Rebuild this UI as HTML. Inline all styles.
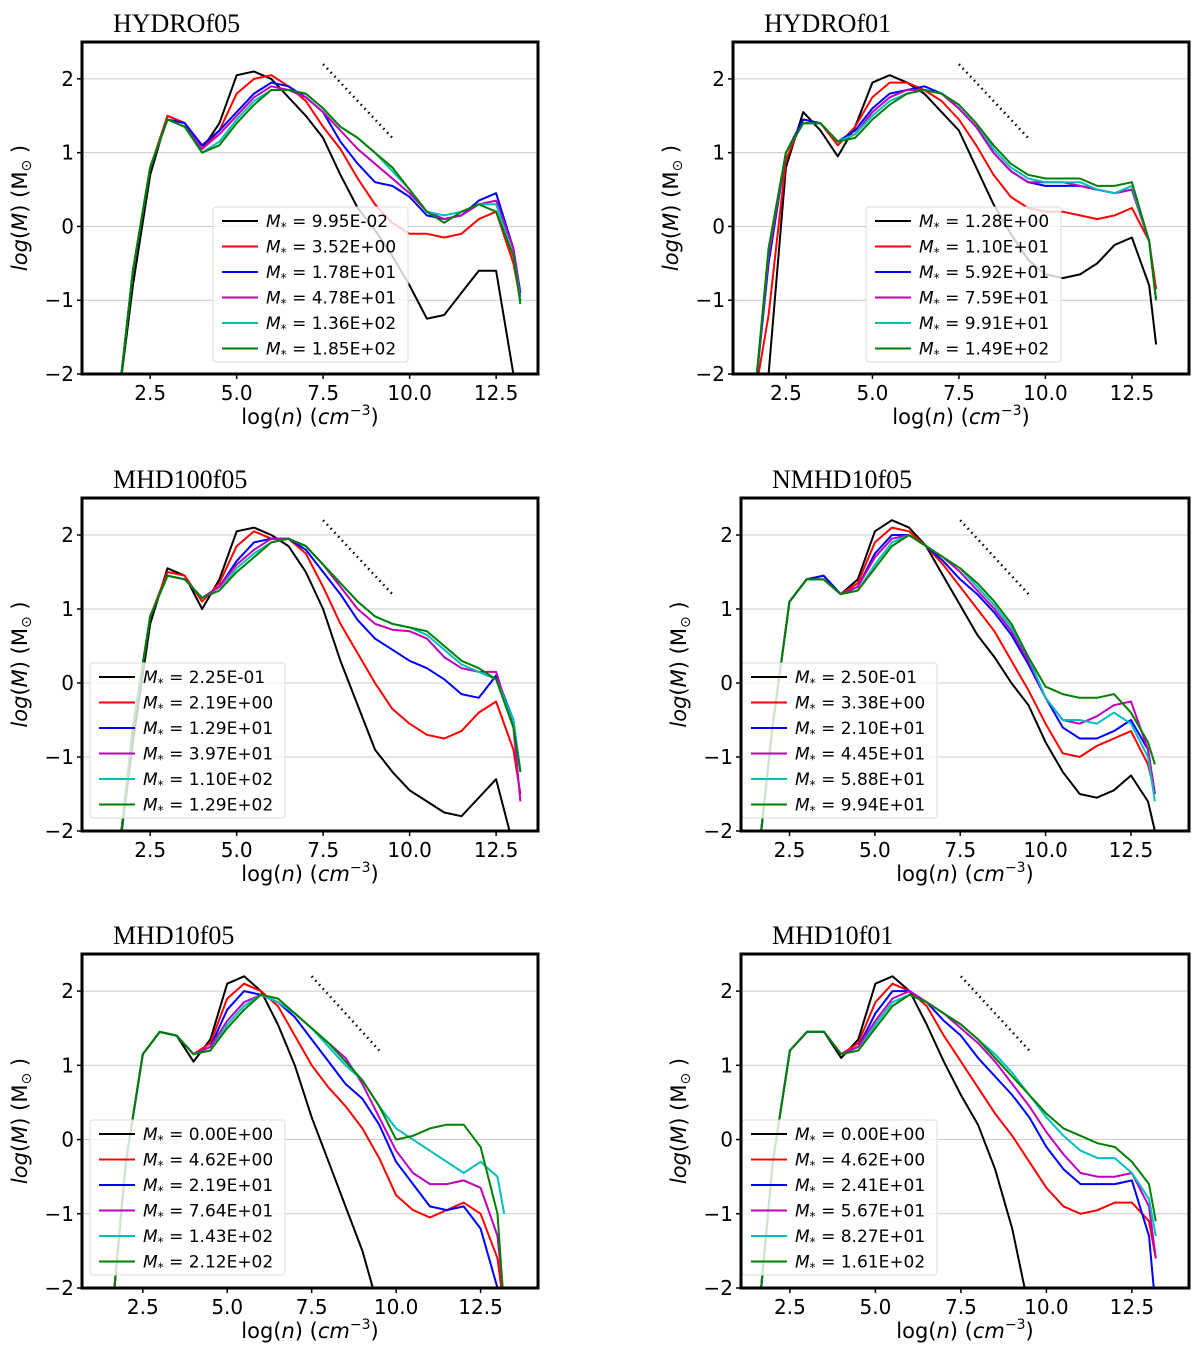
<!DOCTYPE html>
<html><head><meta charset="utf-8"><style>
html,body{margin:0;padding:0;background:#fff;width:1200px;height:1354px;overflow:hidden;}
svg{display:block;}
svg text{font-family:"DejaVu Sans","Liberation Sans",sans-serif;}
</style></head><body>
<svg id="fig" width="1200" height="1354" viewBox="0 0 1200 1354" xmlns="http://www.w3.org/2000/svg"></svg>
<script>
const xs=[1.6,2,2.5,3,3.5,4,4.5,5,5.5,6,6.5,7,7.5,8,8.5,9,9.5,10,10.5,11,11.5,12,12.5,13,13.2];
const colors=['#000000','#ff0000','#0000ff','#bf00bf','#00bfbf','#008000'];
const yTicks=[-2,-1,0,1,2];
const xTicks=[2.5,5.0,7.5,10.0,12.5];
const titles=['HYDROf05','HYDROf01','MHD100f05','NMHD10f05','MHD10f05','MHD10f01'];
const labels1=['9.95E-02','3.52E+00','1.78E+01','4.78E+01','1.36E+02','1.85E+02'];
const labels2=['1.28E+00','1.10E+01','5.92E+01','7.59E+01','9.91E+01','1.49E+02'];
const labels3=['2.25E-01','2.19E+00','1.29E+01','3.97E+01','1.10E+02','1.29E+02'];
const labels4=['2.50E-01','3.38E+00','2.10E+01','4.45E+01','5.88E+01','9.94E+01'];
const labels5=['0.00E+00','4.62E+00','2.19E+01','7.64E+01','1.43E+02','2.12E+02'];
const labels6=['0.00E+00','4.62E+00','2.41E+01','5.67E+01','8.27E+01','1.61E+02'];
const p1=[
[-2.5,-0.8,0.7,1.5,1.4,1.05,1.4,2.05,2.1,2.0,1.75,1.5,1.2,0.7,0.25,-0.05,-0.4,-0.8,-1.25,-1.2,-0.9,-0.6,-0.6,-2.0,-3],
[-2.5,-0.6,0.8,1.5,1.4,1.05,1.3,1.8,2.0,2.05,1.9,1.7,1.35,1.05,0.65,0.3,0.05,-0.1,-0.1,-0.15,-0.1,0.1,0.2,-0.5,-1],
[-2.5,-0.6,0.8,1.45,1.4,1.1,1.3,1.55,1.8,1.95,1.9,1.75,1.55,1.15,0.85,0.6,0.55,0.4,0.15,0.1,0.15,0.35,0.45,-0.3,-0.9],
[-2.5,-0.6,0.8,1.45,1.35,1.05,1.25,1.5,1.75,1.9,1.85,1.75,1.55,1.3,1.05,0.85,0.65,0.45,0.2,0.1,0.15,0.3,0.35,-0.3,-0.95],
[-2.5,-0.6,0.8,1.45,1.35,1.0,1.15,1.45,1.7,1.85,1.85,1.8,1.6,1.35,1.2,1.0,0.75,0.5,0.2,0.15,0.2,0.3,0.3,-0.4,-1],
[-2.5,-0.6,0.8,1.45,1.35,1.0,1.1,1.4,1.65,1.85,1.85,1.8,1.6,1.35,1.2,1.0,0.8,0.5,0.2,0.05,0.2,0.3,0.2,-0.4,-1.05]];
const p2=[
[-3,-2,0.8,1.55,1.3,0.95,1.35,1.95,2.05,1.95,1.8,1.55,1.3,0.8,0.3,-0.1,-0.45,-0.65,-0.7,-0.65,-0.5,-0.25,-0.15,-0.8,-1.6],
[-3,-1.2,0.9,1.45,1.4,1.1,1.35,1.75,1.95,1.95,1.85,1.7,1.45,1.1,0.7,0.4,0.25,0.2,0.2,0.15,0.1,0.15,0.25,-0.2,-0.85],
[-2.5,-0.5,1.0,1.45,1.4,1.15,1.3,1.6,1.8,1.85,1.9,1.8,1.6,1.35,1.0,0.75,0.6,0.55,0.55,0.55,0.5,0.45,0.5,-0.2,-1],
[-2.5,-0.4,1.0,1.4,1.4,1.15,1.25,1.55,1.75,1.85,1.85,1.8,1.6,1.35,1.0,0.75,0.6,0.6,0.6,0.55,0.5,0.45,0.5,-0.2,-1],
[-2.5,-0.3,1.0,1.4,1.4,1.15,1.25,1.5,1.7,1.8,1.85,1.8,1.65,1.4,1.05,0.8,0.65,0.6,0.6,0.6,0.5,0.45,0.55,-0.2,-1],
[-2.5,-0.3,1.0,1.4,1.4,1.15,1.2,1.45,1.65,1.8,1.85,1.8,1.65,1.4,1.1,0.85,0.7,0.65,0.65,0.65,0.55,0.55,0.6,-0.2,-1]];
const p3=[
[-2.5,-0.8,0.8,1.55,1.45,1.0,1.4,2.05,2.1,2.0,1.85,1.5,1.0,0.3,-0.3,-0.9,-1.2,-1.45,-1.6,-1.75,-1.8,-1.55,-1.3,-2.2,-3],
[-2.5,-0.6,0.9,1.5,1.45,1.1,1.35,1.85,2.05,1.95,1.95,1.75,1.3,0.8,0.4,0.0,-0.35,-0.55,-0.7,-0.75,-0.65,-0.4,-0.25,-0.9,-1.5],
[-2.5,-0.6,0.9,1.45,1.4,1.15,1.3,1.65,1.9,1.95,1.95,1.8,1.5,1.2,0.85,0.6,0.45,0.3,0.2,0.05,-0.15,-0.2,0.1,-0.5,-1.2],
[-2.5,-0.6,0.9,1.45,1.4,1.15,1.3,1.6,1.8,1.95,1.95,1.85,1.6,1.3,1.0,0.8,0.72,0.7,0.6,0.35,0.2,0.15,0.15,-0.6,-1.6],
[-2.5,-0.6,0.9,1.45,1.4,1.15,1.25,1.55,1.75,1.9,1.95,1.85,1.6,1.35,1.1,0.9,0.8,0.75,0.65,0.45,0.25,0.15,0.05,-0.5,-1.2],
[-2.5,-0.6,0.9,1.45,1.4,1.15,1.25,1.5,1.7,1.9,1.95,1.85,1.6,1.35,1.1,0.9,0.8,0.75,0.7,0.5,0.3,0.2,0.05,-0.6,-1.2]];
const p4=[
[-2.5,-0.6,1.1,1.4,1.45,1.2,1.4,2.05,2.2,2.1,1.85,1.45,1.05,0.65,0.35,0.0,-0.3,-0.8,-1.2,-1.5,-1.55,-1.45,-1.25,-1.6,-2.0],
[-2.5,-0.6,1.1,1.4,1.45,1.2,1.35,1.9,2.1,2.05,1.85,1.6,1.3,1.0,0.7,0.3,-0.1,-0.55,-0.95,-1.0,-0.85,-0.75,-0.65,-1.1,-1.5],
[-2.5,-0.6,1.1,1.4,1.45,1.2,1.3,1.75,2.0,2.0,1.85,1.65,1.4,1.2,0.95,0.65,0.25,-0.2,-0.6,-0.75,-0.75,-0.65,-0.5,-0.9,-1.5],
[-2.5,-0.6,1.1,1.4,1.4,1.2,1.3,1.7,1.95,2.0,1.85,1.7,1.5,1.25,1.0,0.7,0.3,-0.2,-0.5,-0.55,-0.45,-0.3,-0.25,-0.9,-1.5],
[-2.5,-0.6,1.1,1.4,1.4,1.2,1.25,1.6,1.9,2.0,1.85,1.7,1.55,1.3,1.05,0.75,0.35,-0.2,-0.5,-0.5,-0.55,-0.4,-0.55,-1.0,-1.6],
[-2.5,-0.6,1.1,1.4,1.4,1.2,1.25,1.55,1.85,2.0,1.85,1.7,1.55,1.35,1.1,0.8,0.35,-0.05,-0.15,-0.2,-0.2,-0.15,-0.4,-0.8,-1.1]];
const p5=[
[-2.5,-0.3,1.15,1.45,1.4,1.05,1.35,2.1,2.2,2.0,1.55,1.0,0.3,-0.3,-0.9,-1.5,-2.5,-4,-4,-4,-4,-4,-4,-4,-4],
[-2.5,-0.3,1.15,1.45,1.4,1.15,1.3,1.9,2.1,2.0,1.8,1.4,1.0,0.7,0.45,0.15,-0.25,-0.75,-0.95,-1.05,-0.95,-0.85,-1.0,-1.6,-2.5],
[-2.5,-0.3,1.15,1.45,1.4,1.15,1.25,1.75,2.0,1.95,1.85,1.65,1.35,1.05,0.75,0.55,0.2,-0.3,-0.6,-0.9,-0.95,-0.9,-1.2,-2.0,-3],
[-2.5,-0.3,1.15,1.45,1.4,1.15,1.25,1.6,1.85,1.95,1.85,1.7,1.5,1.3,1.1,0.75,0.3,-0.15,-0.45,-0.6,-0.6,-0.55,-0.65,-1.3,-2.2],
[-2.5,-0.3,1.15,1.45,1.4,1.15,1.2,1.55,1.8,1.95,1.85,1.7,1.5,1.25,1.0,0.8,0.45,0.15,0.0,-0.15,-0.3,-0.45,-0.3,-0.5,-1.0],
[-2.5,-0.3,1.15,1.45,1.4,1.15,1.2,1.5,1.75,1.95,1.9,1.7,1.5,1.3,1.05,0.8,0.45,0.0,0.05,0.15,0.2,0.2,-0.1,-1.0,-2.5]];
const p6=[
[-2.5,-0.3,1.2,1.45,1.45,1.1,1.35,2.1,2.2,2.0,1.55,1.05,0.6,0.2,-0.4,-1.2,-2.3,-4,-4,-4,-4,-4,-4,-4,-4],
[-2.5,-0.3,1.2,1.45,1.45,1.15,1.3,1.85,2.1,2.0,1.8,1.4,1.05,0.7,0.35,0.05,-0.3,-0.65,-0.9,-1.0,-0.95,-0.85,-0.85,-1.1,-1.6],
[-2.5,-0.3,1.2,1.45,1.45,1.15,1.25,1.7,2.0,2.0,1.85,1.6,1.4,1.1,0.85,0.6,0.3,-0.1,-0.4,-0.6,-0.6,-0.6,-0.55,-1.3,-2.5],
[-2.5,-0.3,1.2,1.45,1.45,1.15,1.25,1.6,1.9,2.0,1.85,1.7,1.5,1.3,1.05,0.75,0.45,0.1,-0.2,-0.45,-0.5,-0.5,-0.45,-0.9,-1.6],
[-2.5,-0.3,1.2,1.45,1.45,1.15,1.2,1.55,1.85,1.95,1.85,1.7,1.55,1.35,1.15,0.9,0.6,0.3,0.05,-0.15,-0.25,-0.25,-0.45,-0.8,-1.3],
[-2.5,-0.3,1.2,1.45,1.45,1.15,1.2,1.5,1.8,1.95,1.85,1.7,1.55,1.35,1.1,0.85,0.6,0.35,0.15,0.05,-0.05,-0.1,-0.3,-0.6,-1.1]];
const dotX=[7.5,9.5];
const dotY=[2.2,1.2];

const NS='http://www.w3.org/2000/svg';
const svg=document.getElementById('fig');
function mk(tag,attrs,parent){const e=document.createElementNS(NS,tag);for(const k in attrs)e.setAttribute(k,attrs[k]);(parent||svg).appendChild(e);return e;}

const panels=[
 {L:82,R:538,T:42,B:374,xmin:0.53,xmax:13.71,data:p1,labels:labels1,lg:[213,207]},
 {L:733,R:1189,T:42,B:374,xmin:0.97,xmax:14.15,data:p2,labels:labels2,lg:[866,207]},
 {L:82,R:538,T:498,B:831,xmin:0.53,xmax:13.71,data:p3,labels:labels3,lg:[90,663]},
 {L:741,R:1189,T:498,B:831,xmin:1.08,xmax:14.2,data:p4,labels:labels4,lg:[742,663]},
 {L:82,R:538,T:954,B:1288,xmin:0.7,xmax:14.2,data:p5,labels:labels5,lg:[90,1120]},
 {L:741,R:1189,T:954,B:1288,xmin:1.07,xmax:14.17,data:p6,labels:labels6,lg:[742,1120]}];
const seriesNames=['black','red','blue','magenta','cyan','green'];

panels.forEach((p,i)=>{
 const g=mk('g',{});
 
 
 const sx=v=>p.L+(v-p.xmin)/(p.xmax-p.xmin)*(p.R-p.L);
 const sy=v=>p.B-(Math.max(v,-2.3)+2)/4.5*(p.B-p.T);
 const cid='clip'+i;
 const cp=mk('clipPath',{id:cid},g);mk('rect',{x:p.L,y:p.T,width:p.R-p.L,height:p.B-p.T},cp);
 const t=mk('text',{x:p.L+31,y:p.T-10,'font-size':26,style:'font-family:"Liberation Serif",serif'},g);
 t.textContent=titles[i];
 
 
 yTicks.forEach(v=>{
  const gl=mk('line',{x1:p.L,x2:p.R,y1:sy(v),y2:sy(v),stroke:'#cccccc','stroke-width':1},g);
  
  
  mk('line',{x1:p.L-5,x2:p.L,y1:sy(v),y2:sy(v),stroke:'#000','stroke-width':1.5},g);
  const tl=mk('text',{x:p.L-8,y:sy(v)+7,'text-anchor':'end','font-size':20},g);
  tl.textContent=(v<0?'\u2212'+(-v):v);
  
  
 });
 xTicks.forEach(v=>{
  mk('line',{x1:sx(v),x2:sx(v),y1:p.B,y2:p.B+5,stroke:'#000','stroke-width':1.5},g);
  const tl=mk('text',{x:sx(v),y:p.B+26,'text-anchor':'middle','font-size':20},g);
  tl.textContent=v.toFixed(1);
  
  
 });
 const cg=mk('g',{'clip-path':'url(#'+cid+')'},g);
 p.data.forEach((ser,j)=>{
  const d=ser.map((v,k)=>(k?'L':'M')+sx(xs[k]).toFixed(1)+','+sy(v).toFixed(1)).join('');
  const pl=mk('path',{d:d,fill:'none',stroke:colors[j],'stroke-width':2,'stroke-linejoin':'round'},cg);
  
  
 });
 const dl=mk('line',{x1:sx(dotX[0]),y1:sy(dotY[0]),x2:sx(dotX[1]),y2:sy(dotY[1]),stroke:'#000','stroke-width':2.5,'stroke-dasharray':'1.5,4'},g);
 
 
 const lg=mk('g',{},g);
 
 
 const [lx,ly]=p.lg;
 mk('rect',{x:lx,y:ly,width:195,height:155,rx:3,fill:'rgba(255,255,255,0.8)',stroke:'#dddddd','stroke-width':1},lg);
 p.labels.forEach((lab,j)=>{
  const yy=ly+14+j*25.5;
  const e=mk('g',{},lg);
  
  
  mk('line',{x1:lx+9,x2:lx+45,y1:yy,y2:yy,stroke:colors[j],'stroke-width':2},e);
  const tx=mk('text',{x:lx+53,y:yy+6,'font-size':17},e);
  tx.innerHTML='<tspan font-style="italic">M</tspan><tspan font-size="12" dy="4">*</tspan><tspan dy="-4"> = '+lab+'</tspan>';
 });
 const fr=mk('rect',{x:p.L,y:p.T,width:p.R-p.L,height:p.B-p.T,fill:'none',stroke:'#000','stroke-width':3},g);
 
 
 const xl=mk('text',{x:(p.L+p.R)/2,y:p.B+50,'text-anchor':'middle','font-size':21},g);
 xl.innerHTML='log(<tspan font-style="italic">n</tspan>) (<tspan font-style="italic">cm</tspan><tspan font-size="14" dy="-9">\u22123</tspan><tspan dy="9">)</tspan>';
 
 
 const cy=(p.T+p.B)/2, cx=p.L-55;
 const yl=mk('text',{x:cx,y:cy,'text-anchor':'middle','font-size':21,transform:'rotate(-90 '+cx+' '+cy+')'},g);
 yl.innerHTML='<tspan font-style="italic">log</tspan>(<tspan font-style="italic">M</tspan>) (M<tspan font-size="14" dy="4">\u2299</tspan><tspan dy="-4"> )</tspan>';
 
 
});
</script>
</body></html>
